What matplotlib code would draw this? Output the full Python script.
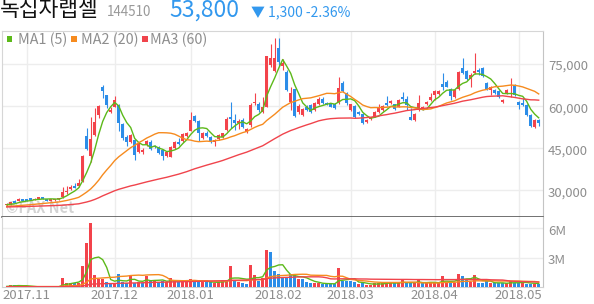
import numpy as np
import pandas as pd
import matplotlib
matplotlib.use('Agg')
import matplotlib.pyplot as plt
from matplotlib.patches import Rectangle
from matplotlib.transforms import blended_transform_factory, offset_copy

plt.rcParams['font.family'] = ['Noto Sans CJK KR', 'DejaVu Sans']

# header
stock_name = '녹십자랩셀'
stock_code = '144510'
last_price = '53,800'
change_txt = '▼ 1,300 -2.36%'

# axis labels
month_idx = [5, 27, 46, 68, 86, 107, 128]
month_lbl = ['2017.11', '2017.12', '2018.01', '2018.02', '2018.03', '2018.04', '2018.05']
price_ticks = [30000, 45000, 60000, 75000]
price_lbl = ['30,000', '45,000', '60,000', '75,000']
vol_ticks = [3e6, 6e6]
vol_lbl = ['3M', '6M']

# moving averages: windows, and the level the lines start at on the left edge
ma_names = ['MA1 (5)', 'MA2 (20)', 'MA3 (60)']
ma_windows = [5, 20, 60]
ma_start = [24800, 24300, 24100]
vol_ma_start = [0.10e6, 0.05e6, 0.05e6]

# daily candles, oldest -> newest (won)
opens = [24700, 25100, 26300, 26300, 26900, 26800, 27200, 26700, 27000, 27600,
         26900, 26400, 26500, 26800, 27800, 29300, 30600, 31700, 31500, 33200,
         49300, 42200, 49600, 56700, 66600, 63800, 57900, 59700, 60300, 53500,
         49000, 47300, 47800, 43700, 43600, 46100, 47300, 45800, 45400, 44300,
         42200, 42000, 45000, 47300, 47500, 49300, 51000, 56400, 54700, 48700,
         50500, 49000, 47300, 48100, 49000, 51400, 56200, 55000, 53900, 55000,
         50800, 53200, 60900, 60600, 57900, 59700, 74500, 72500, 80400, 74200,
         72100, 61500, 65800, 57900, 56700, 59700, 60300, 58500, 60600, 62300,
         61100, 60500, 60500, 61200, 68000, 64400, 58500, 60000, 57700, 57000,
         54200, 55300, 56100, 57900, 58500, 60900, 61100, 60500, 59700, 63000,
         62300, 56100, 55000, 58500, 58800, 60500, 62000, 63800, 64200, 67600,
         68500, 66000, 63200, 65900, 73300, 72300, 69400, 71700, 72700, 73300,
         68000, 65600, 65600, 65400, 61200, 64400, 66600, 67400, 61500, 60900,
         60300, 56700, 52600, 54900]
highs = [25500, 26000, 26500, 27200, 27000, 27000, 27400, 27300, 27800, 27800,
         27100, 27000, 27000, 27300, 31300, 31500, 31800, 32600, 34000, 42400,
         52200, 56100, 59100, 60300, 67200, 64000, 59700, 63500, 60800, 54000,
         49500, 50000, 48200, 47200, 45000, 47900, 47700, 46200, 45800, 44600,
         44000, 45800, 47600, 48500, 50300, 50800, 57900, 56800, 55000, 50800,
         51000, 49300, 48400, 49900, 50500, 56000, 61500, 57000, 55400, 55600,
         52000, 61000, 64400, 61500, 63200, 77600, 82000, 83900, 83900, 76500,
         72600, 66800, 66000, 60500, 59300, 60200, 60600, 61200, 63200, 63200,
         61500, 60900, 60900, 70300, 68900, 65000, 60800, 60300, 58200, 57300,
         55300, 56200, 58000, 60600, 60400, 63600, 62000, 60800, 62400, 64800,
         63500, 59100, 57400, 63800, 60000, 61800, 64400, 65600, 65700, 71500,
         69000, 66300, 65900, 72300, 76800, 72600, 71500, 78600, 73300, 73600,
         68300, 67000, 66000, 65700, 62300, 65900, 69800, 67700, 61800, 62800,
         60600, 57000, 55400, 55300]
lows = [24500, 24900, 25400, 26200, 26300, 26300, 26500, 26600, 26900, 26900,
        26300, 26300, 26400, 26700, 27200, 28700, 30300, 30800, 31300, 33000,
        44300, 40200, 49200, 55800, 62900, 59100, 57300, 59400, 51000, 48000,
        45900, 46800, 40900, 43200, 43000, 45800, 44300, 45000, 42800, 40800,
        41800, 41700, 44800, 46100, 47200, 49000, 50900, 54200, 47600, 48300,
        49000, 46800, 45700, 47900, 48700, 51000, 52000, 51500, 51800, 52200,
        50400, 52500, 60300, 57900, 57500, 59500, 73900, 72000, 74000, 72800,
        65300, 58500, 56000, 57000, 56300, 58200, 57500, 58200, 60400, 60700,
        60400, 59500, 59000, 60800, 65000, 60300, 58300, 55800, 56800, 53500,
        53800, 55000, 55900, 57300, 58300, 60000, 60800, 58600, 59500, 61600,
        58500, 54800, 54600, 58000, 58500, 60200, 61800, 62000, 63900, 65600,
        66500, 62000, 62900, 65600, 71300, 69100, 66800, 71400, 70900, 70300,
        65600, 63800, 64100, 62700, 60900, 64100, 63200, 63500, 58800, 60000,
        56400, 52600, 52300, 52900]
closes = [25300, 25800, 25600, 26900, 26400, 26400, 26600, 27100, 27600, 27000,
          26400, 26900, 26900, 27200, 29500, 29900, 31300, 31000, 32800, 42200,
          44600, 48100, 54400, 60000, 65200, 60300, 58400, 62000, 54000, 48600,
          47300, 49600, 42600, 46800, 44500, 47600, 44600, 45300, 43100, 42200,
          43700, 45500, 47300, 46400, 50000, 50500, 55000, 54700, 50200, 50500,
          49300, 47600, 47800, 49600, 50200, 55300, 55300, 53800, 54600, 52600,
          51800, 60300, 61500, 58500, 59700, 77500, 77000, 76800, 75600, 75200,
          65600, 64400, 56400, 59900, 58900, 58500, 57900, 60900, 62300, 61000,
          60600, 59700, 59300, 66200, 65400, 60900, 60500, 56100, 57000, 54000,
          55000, 55900, 57700, 59100, 60000, 60300, 61800, 58900, 62100, 62300,
          60300, 55000, 57100, 60900, 59700, 61500, 63200, 65400, 65400, 66800,
          66800, 63600, 65600, 72100, 71700, 69400, 70900, 72400, 72100, 70600,
          65900, 66600, 64400, 63000, 62000, 65600, 66800, 63800, 60300, 60300,
          56700, 52800, 55100, 53800]
# traded volume, millions of shares
volumes_m = [0.05, 0.24, 0.24, 0.24, 0.04, 0.05, 0.04, 0.06, 0.05, 0.04,
             0.04, 0.05, 0.04, 0.06, 0.92, 0.44, 0.44, 0.40, 0.45, 2.17,
             4.54, 6.57, 1.25, 0.85, 0.85, 0.58, 0.41, 0.41, 1.36, 0.58,
             0.45, 1.20, 0.45, 0.50, 0.45, 1.20, 0.75, 0.60, 0.58, 0.60,
             0.55, 0.95, 0.60, 0.58, 0.60, 0.65, 0.85, 0.60, 0.60, 0.50,
             0.55, 0.50, 0.45, 0.55, 0.75, 0.65, 2.17, 0.60, 0.55, 0.45,
             0.35, 2.27, 1.25, 0.60, 0.90, 3.80, 3.60, 1.70, 1.36, 1.00,
             1.00, 1.36, 1.25, 0.85, 0.85, 0.50, 0.41, 0.41, 0.41, 0.34,
             0.34, 0.34, 0.34, 1.97, 0.61, 0.61, 0.61, 0.54, 0.31, 0.41,
             0.24, 0.24, 0.41, 0.41, 0.41, 0.54, 0.41, 0.41, 0.41, 0.75,
             0.41, 0.41, 0.41, 0.75, 0.41, 0.41, 0.54, 0.41, 0.54, 1.16,
             0.47, 0.47, 0.47, 1.36, 1.16, 0.82, 0.54, 1.26, 0.47, 0.41,
             0.61, 0.41, 0.41, 0.41, 0.41, 0.41, 0.61, 0.47, 0.41, 0.61,
             0.34, 0.34, 0.34, 0.30]

RED = '#f3434b'
BLUE = '#2c8de8'
MA_COLORS = ['#5cb91a', '#f68b1f', '#f0444c']
GRAY_TXT = '#8e8e8e'
GRID = '#ededed'


def moving_avg(values, n, start):
    """rolling mean, with the days before the window held at the starting level"""
    s = pd.Series([start] * (n - 1) + list(values), dtype=float)
    return s.rolling(n).mean().iloc[n - 1:].to_numpy()


W, H = 594, 304
fig = plt.figure(figsize=(W / 100, H / 100), dpi=100)
fig.patch.set_facecolor('white')

# pixel layout
left, right = 2, 543
p_top, p_bot = 31, 216.5
v_bot = 287.3
ax = fig.add_axes([left / W, 1 - p_bot / H, (right - left) / W, (p_bot - p_top) / H])
axv = fig.add_axes([left / W, 1 - v_bot / H, (right - left) / W, (v_bot - p_bot) / H])

x = np.arange(len(closes))
o = np.array(opens, float)
c = np.array(closes, float)
hi = np.array(highs, float)
lo = np.array(lows, float)
vol = np.array(volumes_m) * 1e6

# candles (red = close above open)
up = c >= o
cc = np.where(up, RED, BLUE)
ax.vlines(x, lo, hi, colors=cc, linewidth=0.8, zorder=3)
body = np.maximum(np.abs(c - o), 180)
ax.bar(x, body, bottom=np.minimum(o, c), width=0.72, color=cc, linewidth=0, zorder=4)

for n, st, col in zip(ma_windows, ma_start, MA_COLORS):
    ax.plot(x, moving_avg(c, n, st), color=col, linewidth=1.0, zorder=5)

# volume coloured by change from the previous close
prev = np.concatenate([[o[0]], c[:-1]])
vc = np.where(c >= prev, RED, BLUE)
axv.bar(x, vol, width=0.72, color=vc, linewidth=0, zorder=3)
for n, st, col in zip(ma_windows, vol_ma_start, MA_COLORS):
    axv.plot(x, moving_avg(vol, n, st), color=col, linewidth=1.0, zorder=4)

xlim = ((left - 6.7) / 4.0, (right - 6.7) / 4.0)
for a in (ax, axv):
    a.set_xlim(*xlim)
    a.set_xticks(month_idx)
    a.set_xticklabels([])
    a.tick_params(length=0, labelleft=False, labelbottom=False)
    a.grid(True, color=GRID, linewidth=1.0, zorder=0)
    a.set_axisbelow(True)
    for s in ('left', 'top'):
        a.spines[s].set_color('#d6d6d6')
    a.spines['right'].set_color('#c4c4c4')

ax.set_ylim(20746, 86525)
ax.set_yticks(price_ticks)
ax.spines['bottom'].set_color('#4a4a4a')
ax.spines['bottom'].set_linewidth(1.1)

axv.set_ylim(0, 7.2e6)
axv.set_yticks(vol_ticks)
axv.spines['top'].set_visible(False)
axv.spines['bottom'].set_color('#d0d0d0')

# right-hand value labels, sitting a few pixels under their grid lines
for a, ticks, labels in ((ax, price_ticks, price_lbl), (axv, vol_ticks, vol_lbl)):
    tr = offset_copy(blended_transform_factory(fig.transFigure, a.transData),
                     fig=fig, y=-3, units='dots')
    for t, lab in zip(ticks, labels):
        a.text(548 / W, t, lab, transform=tr, ha='left', va='center',
               fontsize=9.5, color=GRAY_TXT, clip_on=False)

# month labels under the volume panel
trx = blended_transform_factory(axv.transData, fig.transFigure)
for i, lab in zip(month_idx, month_lbl):
    axv.text(i, 1 - 295.5 / H, lab, transform=trx, ha='center', va='center',
             fontsize=9.5, color=GRAY_TXT, clip_on=False)

# watermark
ax.text(0.008, 0.045, '©FAX Net', transform=ax.transAxes, fontsize=10.5,
        fontweight='bold', color='#c9c9c9', alpha=0.8, va='center', zorder=1)

# header
fig.text(0 / W, 1 - 10.5 / H, stock_name, fontsize=15.5, color='#111111', va='center',
         ha='left', fontweight='medium')
fig.text(107 / W, 1 - 12.5 / H, stock_code, fontsize=9.7, color='#999999', va='center', ha='left')
fig.text(169 / W, 1 - 10.5 / H, last_price, fontsize=16.5, color='#3298ee', va='center', ha='left')
fig.text(251 / W, 1 - 12.5 / H, change_txt, fontsize=10, color='#3298ee', va='center', ha='left')

# legend
for (sx, tx), name, col in zip(((6.5, 18), (71, 81), (142, 150)), ma_names, MA_COLORS):
    fig.add_artist(Rectangle((sx / W, 1 - 41.7 / H), 5.5 / W, 5.5 / H,
                             transform=fig.transFigure, color=col, linewidth=0))
    fig.text(tx / W, 1 - 39.5 / H, name, fontsize=10.3, color=GRAY_TXT, va='center', ha='left')

fig.savefig('out.png', dpi=100, facecolor='white')
